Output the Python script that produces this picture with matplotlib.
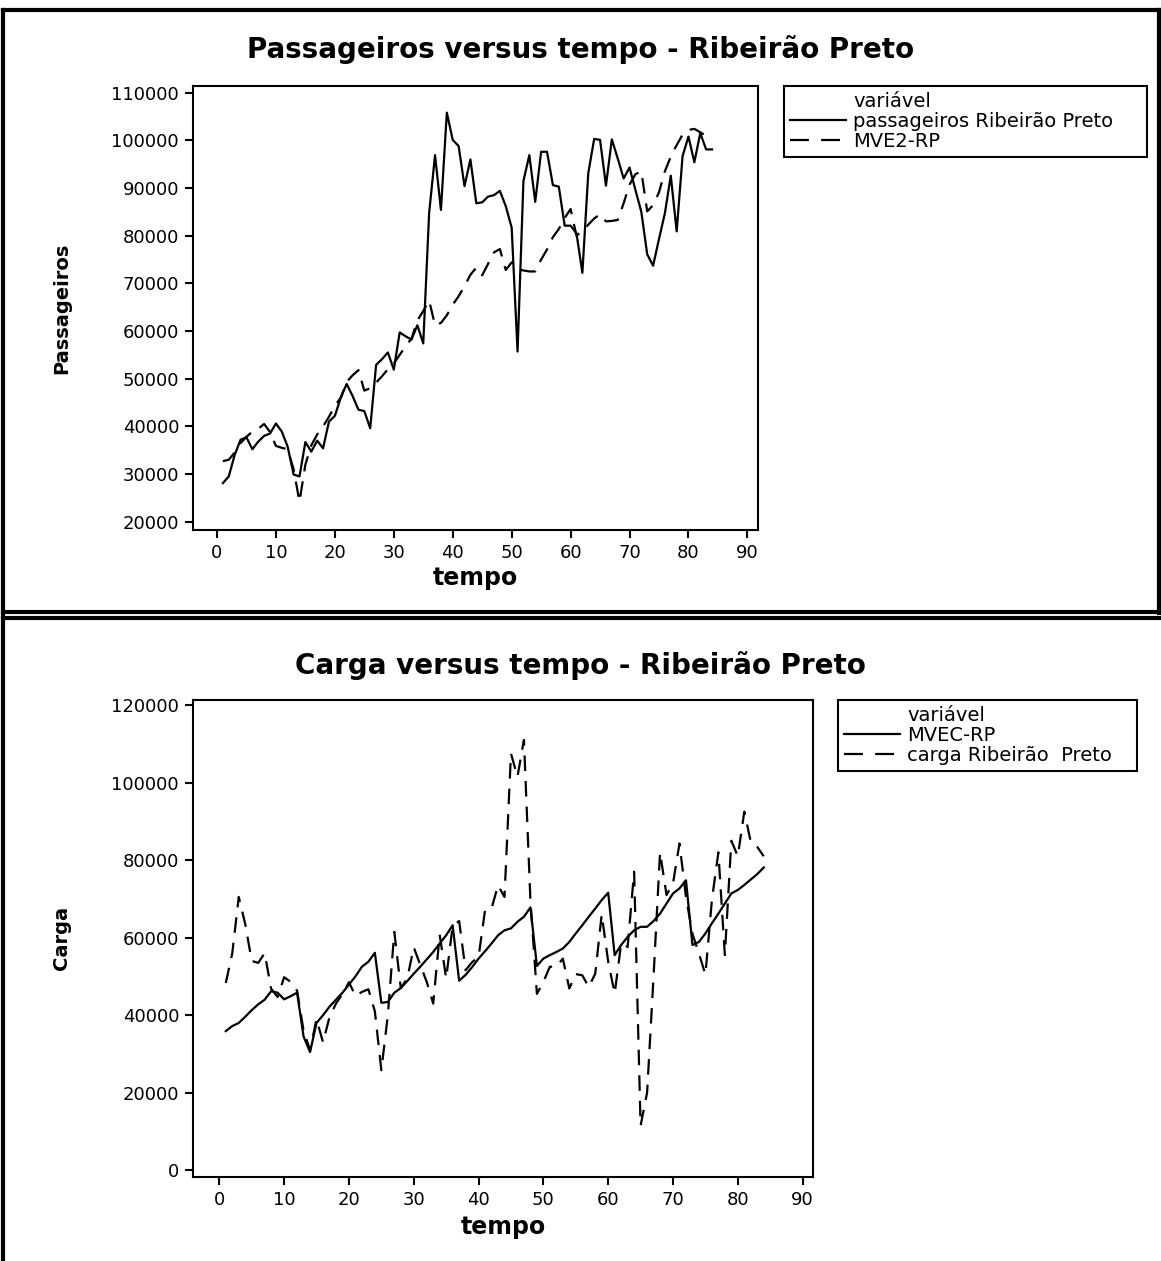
import numpy as np
import matplotlib
matplotlib.use('Agg')
import matplotlib.pyplot as plt
from matplotlib.lines import Line2D

plt.rcParams['font.family'] = ['DejaVu Sans']

tempo = np.arange(1, 85)

passageiros_rp = [28100, 29500, 34000, 37200, 37700, 35200, 36800, 38000, 38500, 40600,
                  38900, 35700, 29900, 29500, 36700, 34700, 37000, 35400, 41000, 42200,
                  46000, 48900, 46400, 43500, 43200, 39600, 52900, 54100, 55500, 51900,
                  59700, 58900, 58200, 61200, 57400, 84800, 96900, 85400, 105800, 100100,
                  98800, 90400, 96000, 86800, 87000, 88200, 88500, 89400, 86200, 81700,
                  55700, 91500, 96900, 87100, 97600, 97600, 90600, 90300, 82100, 82100,
                  80500, 72200, 93100, 100300, 100100, 90500, 100200, 96200, 92000, 94300,
                  89600, 85000, 76100, 73700, 79300, 84700, 92600, 80900, 96700, 100800,
                  95400, 101500, 98100, 98100]

mve2_rp = [32700, 33000, 34500, 36500, 37800, 38900, 39500, 40500, 38800, 35900,
           35500, 35200, 31000, 24200, 32000, 36000, 38300, 40000, 42000, 44300,
           46000, 49300, 50700, 51800, 47500, 48000, 49200, 50500, 52000, 53200,
           55000, 56800, 58400, 62200, 64200, 66400, 61200, 61700, 63300, 65500,
           67300, 69400, 71800, 73300, 71700, 74100, 76500, 77200, 72800, 74400,
           73000, 72700, 72500, 72500, 75000, 77100, 79700, 81400, 83700, 85600,
           80000, 81000, 82300, 83600, 84500, 83000, 83100, 83300, 86800, 90700,
           92900, 93500, 85100, 86400, 89100, 93500, 96600, 99000, 101200, 102200,
           102400, 101700, 100900, 100800]

mvec_rp = [35900, 37200, 38000, 39600, 41300, 42800, 44000, 46200, 45800, 44100,
           44900, 45800, 34500, 30500, 38000, 40000, 42200, 44000, 45800, 47900,
           50000, 52500, 53800, 56100, 43200, 43400, 45800, 47000, 48800, 50700,
           52500, 54400, 56300, 58500, 60600, 63200, 48900, 50400, 52400, 54600,
           56500, 58500, 60600, 61900, 62400, 64100, 65400, 67800, 52700, 54600,
           55500, 56300, 57200, 58900, 61100, 63200, 65400, 67500, 69700, 71600,
           55500, 58100, 60200, 61900, 62800, 62800, 64300, 66200, 68800, 71400,
           72700, 74800, 58100, 58900, 61100, 63700, 66200, 68800, 71400, 72300,
           73600, 75000, 76400, 78100]

carga_rp = [48300, 56000, 70500, 63500, 54000, 53500, 56000, 46800, 44700, 49800,
            48600, 46300, 36000, 31000, 39000, 33000, 39500, 43000, 45500, 48500,
            45000, 46000, 46700, 41000, 25800, 40000, 61500, 47000, 49500, 57500,
            53000, 48600, 43000, 60800, 49500, 63000, 64300, 51600, 53700, 55000,
            67100, 67500, 73500, 70500, 107500, 101500, 111000, 69700, 45500, 48600,
            52500, 52500, 54600, 46900, 50600, 50300, 47300, 50700, 66000, 53800,
            45600, 58500, 57600, 77000, 11500, 20000, 50000, 82000, 71000, 74000,
            84300, 70500, 61000, 55900, 50500, 69700, 82000, 55500, 85000, 81000,
            92500, 84700, 83400, 81000]

W, H = 1161, 1261
fig = plt.figure(figsize=(W / 100, H / 100), dpi=100)

DASH = (0, (7, 4.5))
LEG_DASH = (0, (8.5, 5.5))
LW = 1.6


def fx(px):
    return px / W


def fy(py):
    return 1 - py / H


def style_axes(ax):
    for s in ax.spines.values():
        s.set_linewidth(1.5)
        s.set_color('black')
    ax.tick_params(direction='out', length=6, width=1.5, labelsize=13,
                   top=False, right=False, pad=4)


def add_legend(ax, labels, x0, y0, x1, y1):
    handles = [Line2D([], [], color='none'),
               Line2D([], [], color='black', lw=LW),
               Line2D([], [], color='black', lw=LW, linestyle=LEG_DASH)]
    leg = ax.legend(handles, ['variável'] + labels,
                    loc='upper left', mode='expand',
                    bbox_to_anchor=(fx(x0), fy(y1), fx(x1) - fx(x0), fy(y0) - fy(y1)),
                    bbox_transform=fig.transFigure, borderaxespad=0,
                    fontsize=14, handlelength=2.9, handletextpad=0.35,
                    borderpad=0.3, labelspacing=0.05, fancybox=False,
                    framealpha=1, edgecolor='black')
    leg.get_frame().set_linewidth(1.5)
    return leg


# painel de cima
ax1 = fig.add_axes([fx(193), fy(530), fx(758) - fx(193), fy(86) - fy(530)])
ax1.plot(tempo, passageiros_rp, color='black', lw=LW)
ax1.plot(tempo, mve2_rp, color='black', lw=LW, linestyle=DASH)
ax1.set_xlim(-4.07, 91.8)
ax1.set_ylim(18260, 111400)
ax1.set_xticks(np.arange(0, 91, 10))
ax1.set_yticks(np.arange(20000, 110001, 10000))
style_axes(ax1)
add_legend(ax1, ['passageiros Ribeirão Preto', 'MVE2-RP'], 784, 86, 1147, 158)

fig.text(0.5, fy(50), 'Passageiros versus tempo - Ribeirão Preto', ha='center', va='center',
         fontsize=20, fontweight='bold')
fig.text(fx(475), fy(578), 'tempo', ha='center', va='center', fontsize=17, fontweight='bold')
fig.text(fx(62), fy(308), 'Passageiros', ha='center', va='center', rotation=90,
         fontsize=14, fontweight='bold')

# painel de baixo
ax2 = fig.add_axes([fx(193), fy(1177), fx(813) - fx(193), fy(700) - fy(1177)])
ax2.plot(tempo, mvec_rp, color='black', lw=LW)
ax2.plot(tempo, carga_rp, color='black', lw=LW, linestyle=DASH)
ax2.set_xlim(-4.06, 91.6)
ax2.set_ylim(-1730, 121300)
ax2.set_xticks(np.arange(0, 91, 10))
ax2.set_yticks(np.arange(0, 120001, 20000))
style_axes(ax2)
add_legend(ax2, ['MVEC-RP', 'carga Ribeirão  Preto'], 838, 700, 1137, 773)

fig.text(0.5, fy(665), 'Carga versus tempo - Ribeirão Preto', ha='center', va='center',
         fontsize=20, fontweight='bold')
fig.text(fx(503), fy(1227), 'tempo', ha='center', va='center', fontsize=17, fontweight='bold')
fig.text(fx(62), fy(938), 'Carga', ha='center', va='center', rotation=90,
         fontsize=14, fontweight='bold')

# molduras dos paineis
frame = dict(color='black', lw=3, transform=fig.transFigure)
fig.add_artist(Line2D([fx(3), fx(1161)], [fy(10), fy(10)], **frame))
fig.add_artist(Line2D([fx(3), fx(3)], [fy(10), fy(1261)], **frame))
fig.add_artist(Line2D([fx(1159), fx(1159)], [fy(10), fy(613)], **frame))
fig.add_artist(Line2D([fx(3), fx(1161)], [fy(612), fy(612)], **frame))
fig.add_artist(Line2D([fx(3), fx(1161)], [fy(618), fy(618)], **frame))

fig.savefig('out.png', dpi=100)
